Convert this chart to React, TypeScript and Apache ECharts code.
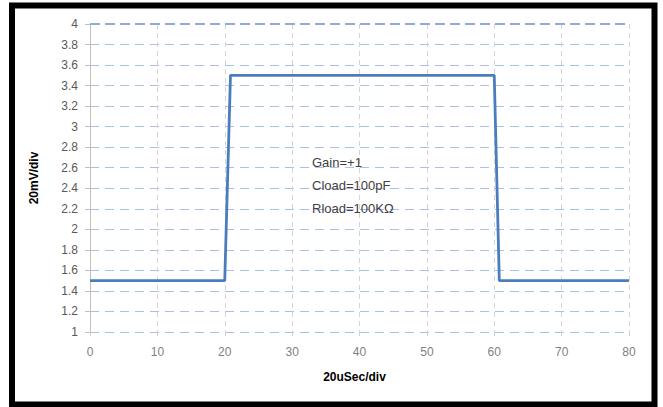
import React, { useEffect, useRef } from "react";
import * as echarts from "echarts";

const timeValues = [0, 20, 20.85, 60, 60.75, 80];
const voltageValues = [1.5, 1.5, 3.5, 3.5, 1.5, 1.5];
const annotationLines = ["Gain=+1", "Cload=100pF", "Rload=100KΩ"];
const xAxisTitle = "20uSec/div";
const yAxisTitle = "20mV/div";

export default function App() {
  const ref = useRef<HTMLDivElement>(null);
  useEffect(() => {
    if (!ref.current) return;
    const chart = echarts.init(ref.current, undefined, { renderer: "svg" });
    const font = "'Liberation Sans', Arial, sans-serif";
    chart.setOption({
      animation: false,
      backgroundColor: "#ffffff",
      grid: { left: 90, right: 34, top: 24, bottom: 75, containLabel: false },
      xAxis: {
        type: "value",
        min: 0,
        max: 80,
        interval: 10,
        name: xAxisTitle,
        nameLocation: "middle",
        nameGap: 39,
        nameTextStyle: { fontFamily: font, fontWeight: "bold", fontSize: 12, color: "#000", padding: [0, 10, 0, 0] },
        axisLine: { show: false },
        axisTick: { show: true, length: 4, lineStyle: { color: "#d0d0d0" } },
        axisLabel: { margin: 14, fontFamily: font, fontSize: 12, color: "#7f7f7f" },
        splitLine: { show: true, lineStyle: { color: "#d4d4d4", type: [5, 4], width: 1 } },
      },
      yAxis: {
        type: "value",
        min: 1,
        max: 4,
        interval: 0.2,
        name: yAxisTitle,
        nameLocation: "middle",
        nameGap: 50,
        nameTextStyle: { fontFamily: font, fontWeight: "bold", fontSize: 12, color: "#000" },
        axisLine: { show: true, lineStyle: { color: "#bfbfbf", width: 1 } },
        axisTick: { show: true, length: 5, lineStyle: { color: "#bfbfbf" } },
        axisLabel: {
          margin: 12,
          fontFamily: font,
          fontSize: 12,
          color: "#595959",
          formatter: (v: number) => String(+v.toFixed(1)),
        },
        splitLine: { show: true, lineStyle: { color: "#a9c0e8", type: [9, 6], width: 1 } },
      },
      series: [
        {
          type: "line",
          data: timeValues.map((t, i) => [t, voltageValues[i]]),
          symbol: "none",
          lineStyle: { color: "#4a7ebb", width: 2.8 },
          z: 5,
          markLine: {
            silent: true,
            symbol: "none",
            label: { show: false },
            emphasis: { disabled: true },
            lineStyle: { color: "#8eabe0", type: [10, 5], width: 2, opacity: 1 },
            data: [{ yAxis: 4 }],
          },
        },
      ],
      graphic: [
        {
          type: "rect",
          shape: { x: 12, y: 5.5, width: 642.5, height: 399 },
          style: { fill: "none", stroke: "#000", lineWidth: 6 },
          z: 100,
        },
        ...annotationLines.map((t, i) => ({
          type: "text",
          left: 312,
          top: 156 + i * 23,
          style: { text: t, fontFamily: font, fontSize: 13, fill: "#404040" },
          z: 50,
        })),
      ],
    });
    return () => chart.dispose();
  }, []);
  return (
    <div
      ref={ref}
      style={{ position: "absolute", left: 0, top: 0, width: 663, height: 407 }}
    />
  );
}
